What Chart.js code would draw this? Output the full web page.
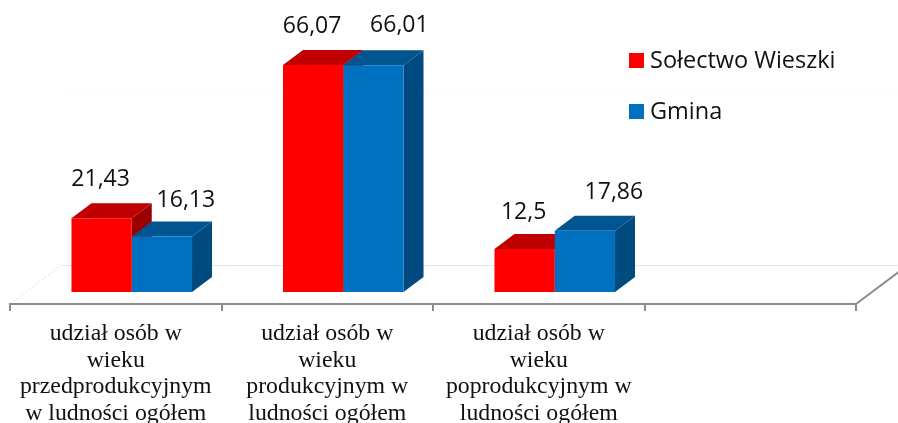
<!DOCTYPE html>
<html>
<head>
<meta charset="utf-8">
<style>
  html, body { margin: 0; padding: 0; background: #fff; }
  canvas { display: block; }
</style>
<script src="https://cdn.jsdelivr.net/npm/chart.js@4"></script>
</head>
<body>
<canvas id="myChart" width="898" height="423"></canvas>
<script>
const categories = [
  ['udział osób w', 'wieku', 'przedprodukcyjnym', 'w ludności ogółem'],
  ['udział osób w', 'wieku', 'produkcyjnym w', 'ludności ogółem'],
  ['udział osób w', 'wieku', 'poprodukcyjnym w', 'ludności ogółem'],
  ''
];
const solectwo = [21.43, 66.07, 12.5, null];
const gmina = [16.13, 66.01, 17.86, null];
const seriesNames = ['Sołectwo Wieszki', 'Gmina'];

// front, top and side colours of the 3d bars
const faces = [
  { front: '#ff0000', top: '#c00000', side: '#9b0000' },
  { front: '#0070c0', top: '#00548f', side: '#004a7f' }
];
const barDepth = { x: 20, y: -15 };
const floorDepth = { x: 52, y: -39 };
const axisShift = -16; // the axis sits in front of the bars
const labelFont = '23px "Open Sans"';
// value labels were moved by hand in the original, so each has its own shift
const labelShift = [
  [[-1, -38.5], [-1, -38.5], [-1, -36.5]],
  [[24, -36], [26, -40], [29, -38]]
];

function poly(ctx, color, pts) {
  ctx.fillStyle = color;
  ctx.beginPath();
  pts.forEach((p, i) => i ? ctx.lineTo(p[0], p[1]) : ctx.moveTo(p[0], p[1]));
  ctx.closePath();
  ctx.fill();
}

const floor3d = {
  id: 'floor3d',
  beforeDatasetsDraw(chart) {
    const ctx = chart.ctx;
    const x = chart.scales.x;
    const bottom = x.top;
    const left = x.left + axisShift;
    const right = x.right + axisShift;
    const wall = bottom + floorDepth.y;
    ctx.save();

    // back wall
    ctx.strokeStyle = '#e6e6e6';
    ctx.lineWidth = 1;
    ctx.beginPath();
    ctx.moveTo(left + floorDepth.x, wall + 0.5);
    ctx.lineTo(chart.width, wall + 0.5);
    ctx.stroke();

    const grid = chart.scales.y.getPixelForValue(50) + floorDepth.y / 2 - 8;
    ctx.strokeStyle = '#fafafa';
    ctx.beginPath();
    ctx.moveTo(left + floorDepth.x, grid);
    ctx.lineTo(chart.width, grid);
    ctx.stroke();

    // left floor edge
    ctx.strokeStyle = '#dddddd';
    ctx.setLineDash([2, 2]);
    ctx.beginPath();
    ctx.moveTo(left, bottom);
    ctx.lineTo(left + floorDepth.x, wall);
    ctx.stroke();
    ctx.setLineDash([]);

    // right floor edge
    ctx.strokeStyle = '#8c8c8c';
    ctx.lineWidth = 2;
    ctx.beginPath();
    ctx.moveTo(right, bottom);
    ctx.lineTo(right + floorDepth.x, wall);
    ctx.stroke();

    // axis and ticks
    ctx.beginPath();
    ctx.moveTo(left - 1, bottom);
    ctx.lineTo(right + 1, bottom);
    for (let i = 0; i <= categories.length; i++) {
      const tx = Math.round(left + (right - left) * i / categories.length);
      ctx.moveTo(tx, bottom);
      ctx.lineTo(tx, bottom + 7);
    }
    ctx.stroke();

    // top and side of each bar
    chart.data.datasets.forEach((ds, d) => {
      chart.getDatasetMeta(d).data.forEach((bar, i) => {
        if (ds.data[i] === null) return;
        const l = bar.x - bar.width / 2;
        const r = bar.x + bar.width / 2;
        const dx = barDepth.x, dy = barDepth.y;
        poly(ctx, faces[d].top, [[l, bar.y], [r, bar.y], [r + dx, bar.y + dy], [l + dx, bar.y + dy]]);
        poly(ctx, faces[d].side, [[r, bar.y], [r + dx, bar.y + dy], [r + dx, bar.base + dy], [r, bar.base]]);
      });
    });
    ctx.restore();
  },
  afterDatasetsDraw(chart) {
    const ctx = chart.ctx;
    ctx.save();
    ctx.font = labelFont;
    ctx.fillStyle = '#111';
    ctx.textAlign = 'center';
    ctx.textBaseline = 'middle';
    chart.data.datasets.forEach((ds, d) => {
      chart.getDatasetMeta(d).data.forEach((bar, i) => {
        if (ds.data[i] === null) return;
        const text = String(ds.data[i]).replace('.', ',');
        ctx.fillText(text, bar.x + labelShift[d][i][0], bar.y + labelShift[d][i][1]);
      });
    });

    // legend
    ctx.font = '23.5px "Open Sans"';
    ctx.textAlign = 'left';
    seriesNames.forEach((name, d) => {
      const y = 53 + d * 51;
      ctx.fillStyle = faces[d].front;
      ctx.fillRect(629, y, 15, 15);
      ctx.fillStyle = '#111';
      ctx.fillText(name, 650, y + 8);
    });
    ctx.restore();
  }
};

var ctx = document.getElementById('myChart').getContext('2d');
var myChart = new Chart(ctx, {
  type: 'bar',
  data: {
    labels: categories,
    datasets: [
      { label: seriesNames[0], data: solectwo, backgroundColor: faces[0].front },
      { label: seriesNames[1], data: gmina, backgroundColor: faces[1].front }
    ]
  },
  plugins: [floor3d],
  options: {
    responsive: false,
    animation: false,
    layout: { padding: { left: 26, right: 26, top: 0, bottom: 0 } },
    datasets: { bar: { barPercentage: 1, categoryPercentage: 0.57 } },
    plugins: {
      legend: { display: false },
      tooltip: { enabled: false }
    },
    scales: {
      y: { display: false, min: -3.5, max: 85 },
      x: {
        grid: { display: false },
        border: { display: false },
        afterFit(scale) { scale.height = 119; },
        ticks: {
          autoSkip: false,
          maxRotation: 0,
          minRotation: 0,
          padding: 9,
          labelOffset: axisShift,
          color: '#111',
          font: { family: '"Liberation Serif"', size: 23.8, lineHeight: 1.11 }
        }
      }
    }
  }
});
</script>
</body>
</html>
